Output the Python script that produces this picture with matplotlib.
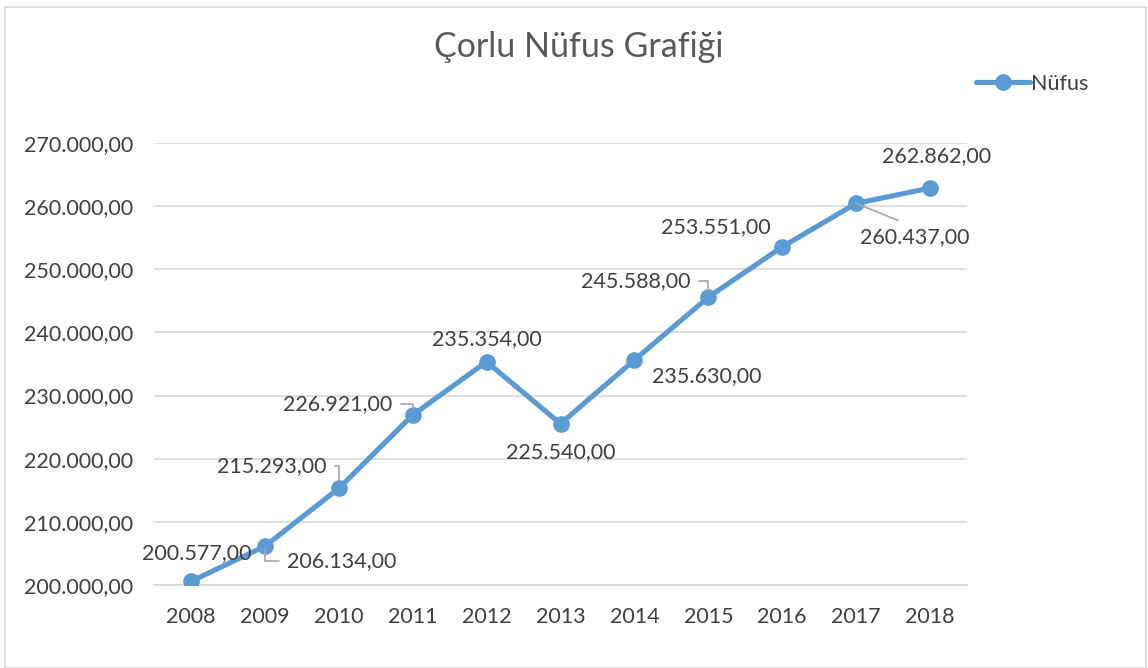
import matplotlib
matplotlib.use('Agg')
import matplotlib.pyplot as plt
from matplotlib.patches import Rectangle
from matplotlib.ticker import FuncFormatter

###############################################################################
## data
###############################################################################

years = [2008, 2009, 2010, 2011, 2012, 2013, 2014, 2015, 2016, 2017, 2018]
nufus = [200577, 206134, 215293, 226921, 235354, 225540, 235630, 245588, 253551, 260437, 262862]
series_name = 'Nüfus'
title = 'Çorlu Nüfus Grafiği'

# label offsets in pixels (dx, dy), alignment, leader style
label_pos = [
    ((6, 28), 'center', None),
    ((22, -15), 'left', 'elbow_left'),
    ((-12, 22), 'right', 'elbow_right'),
    ((-20, 11), 'right', 'elbow_right'),
    ((0, 23), 'center', None),
    ((0, -28), 'center', None),
    ((18, -16), 'left', None),
    ((-18, 16), 'right', 'elbow_right'),
    ((-12, 20), 'right', None),
    ((59, -34), 'center', 'straight'),
    ((7, 32), 'center', None),
]

###############################################################################
## helpers
###############################################################################

def tr_format(v, pos=None):
    """format number turkish style: 200.000,00"""
    s = '{:,.2f}'.format(v)
    return s.replace(',', 'X').replace('.', ',').replace('X', '.')

###############################################################################
## plot
###############################################################################

plt.rcParams['font.family'] = ['Lato', 'DejaVu Sans']
blue = '#5b9bd5'
txt = '#404040'
grey = '#a6a6a6'
fs = 15.5

fig = plt.figure(figsize=(11.48, 6.68), dpi=100)
ax = fig.add_axes([154/1148, 1 - 585/668, (967-154)/1148, (585-143)/668])

ax.plot(years, nufus, color=blue, lw=3.7, marker='o', ms=11, label=series_name,
        solid_capstyle='round', zorder=3)

ax.set_xlim(years[0] - 0.5, years[-1] + 0.5)
ax.set_ylim(200000, 270000)
ax.set_yticks(range(200000, 270001, 10000))
ax.yaxis.set_major_formatter(FuncFormatter(tr_format))
ax.set_xticks(years)
ax.grid(axis='y', color='#d9d9d9', lw=1.2)
ax.set_axisbelow(True)
for sp in ['top', 'right', 'left']:
    ax.spines[sp].set_visible(False)
ax.spines['bottom'].set_color('#d9d9d9')
ax.spines['bottom'].set_linewidth(1.2)
ax.tick_params(length=0, labelsize=fs, labelcolor=txt)
ax.tick_params(axis='y', pad=15)
ax.tick_params(axis='x', pad=16)

for x, y, (off, ha, leader) in zip(years, nufus, label_pos):
    arrow = None
    if leader == 'elbow_right':
        arrow = dict(arrowstyle='-', color=grey, lw=1.2, relpos=(1, 0.5),
                     connectionstyle='angle,angleA=0,angleB=90,rad=0',
                     shrinkA=4, shrinkB=5)
    elif leader == 'elbow_left':
        arrow = dict(arrowstyle='-', color=grey, lw=1.2, relpos=(0, 0.5),
                     connectionstyle='angle,angleA=0,angleB=90,rad=0',
                     shrinkA=4, shrinkB=2)
    elif leader == 'straight':
        arrow = dict(arrowstyle='-', color=grey, lw=1.2, relpos=(0.5, 1),
                     shrinkA=8, shrinkB=0)
    ax.annotate(tr_format(y), (x, y), xytext=off, textcoords='offset pixels',
                ha=ha, va='center', fontsize=fs, color=txt, arrowprops=arrow,
                zorder=4)

fig.text(579/1148, 1 - 47/668, title, ha='center', va='center', fontsize=24.5, color='#595959')

fig.legend(loc='center left', bbox_to_anchor=(957/1148, 1 - 84/668), frameon=False,
           fontsize=fs, handlelength=2.5, handletextpad=0.05, labelcolor=txt)

fig.patches.append(Rectangle((5/1148, 0.5/668), 1141/1148, 661/668, transform=fig.transFigure,
                             fill=False, edgecolor='#d9d9d9', lw=1.2))

fig.savefig('out.png', dpi=100)
